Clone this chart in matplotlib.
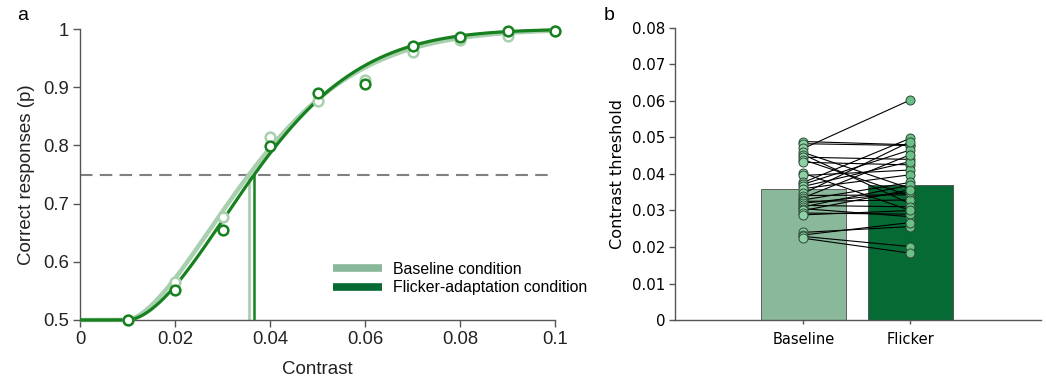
import numpy as np
import matplotlib
matplotlib.use("Agg")
import matplotlib.pyplot as plt
from matplotlib.lines import Line2D

# ---------------- data ----------------
contrast = [0.01, 0.02, 0.03, 0.04, 0.05, 0.06, 0.07, 0.08, 0.09, 0.10]
baseline_p = [0.500, 0.565, 0.677, 0.814, 0.876, 0.912, 0.961, 0.981, 0.988, 0.997]
flicker_p = [0.500, 0.552, 0.655, 0.799, 0.890, 0.905, 0.971, 0.986, 0.996, 0.997]

# fitted psychometric (Weibull) parameters
baseline_threshold = 0.0356
flicker_threshold = 0.0367
baseline_slope = 1.6
flicker_slope = 1.75
fit_onset = 0.01
criterion = 0.75

conditions = ["Baseline", "Flicker"]
bar_means = [0.0359, 0.0370]
subj_baseline = [0.0489, 0.0483, 0.0470, 0.0459, 0.0453, 0.0446, 0.0439, 0.0432,
                 0.0402, 0.0396, 0.0377, 0.0372, 0.0366, 0.0360, 0.0347, 0.0341,
                 0.0335, 0.0329, 0.0325, 0.0320, 0.0314, 0.0310, 0.0305, 0.0300,
                 0.0293, 0.0288, 0.0240, 0.0233, 0.0229, 0.0224]
subj_flicker = [0.0480, 0.0478, 0.0603, 0.0360, 0.0318, 0.0440, 0.0340, 0.0425,
                0.0300, 0.0411, 0.0498, 0.0466, 0.0434, 0.0398, 0.0489, 0.0343,
                0.0453, 0.0377, 0.0329, 0.0350, 0.0310, 0.0370, 0.0283, 0.0357,
                0.0290, 0.0300, 0.0256, 0.0267, 0.0201, 0.0183]


def weibull(x, thr, slope, onset):
    x = np.asarray(x, dtype=float)
    d = np.clip(x - onset, 0, None)
    scale = (thr - onset) / np.log(2) ** (1.0 / slope)
    return 0.5 + 0.5 * (1 - np.exp(-(d / scale) ** slope))


# ---------------- figure ----------------
W, H = 1046, 383
fig = plt.figure(figsize=(W / 100, H / 100), dpi=100)

light_curve = "#a8d0ae"
dark_curve = "#17801f"
bar_light = "#8ab89a"
bar_dark = "#066a35"

# ---- panel a ----
axa = fig.add_axes([80 / W, 1 - 320 / H, (555 - 80) / W, (320 - 29) / H])
arial = "Liberation Sans"
xs = np.linspace(0, 0.1, 600)
axa.axhline(criterion, color="#808080", lw=1.5, ls=(0, (6, 3.5)), zorder=1)
axa.plot(xs, weibull(xs, baseline_threshold, baseline_slope, fit_onset),
         color=light_curve, lw=3.2, zorder=2, clip_on=False, solid_capstyle="butt")
axa.plot(xs, weibull(xs, flicker_threshold, flicker_slope, fit_onset),
         color=dark_curve, lw=2.3, zorder=3, clip_on=False, solid_capstyle="butt")
axa.plot([baseline_threshold] * 2, [0.5, criterion], color=light_curve, lw=2, zorder=2)
axa.plot([flicker_threshold] * 2, [0.5, criterion], color=dark_curve, lw=1.8, zorder=3)
axa.plot(contrast, baseline_p, "o", ms=7, mfc="white", mec=light_curve, mew=1.8,
         zorder=4, clip_on=False)
axa.plot(contrast, flicker_p, "o", ms=7, mfc="white", mec=dark_curve, mew=1.8,
         zorder=5, clip_on=False)
axa.set_xlim(0, 0.1)
axa.set_ylim(0.5, 1.0)
axa.set_xticks([0, 0.02, 0.04, 0.06, 0.08, 0.1])
axa.set_xticklabels(["0", "0.02", "0.04", "0.06", "0.08", "0.1"])
axa.set_yticks([0.5, 0.6, 0.7, 0.8, 0.9, 1.0])
axa.set_yticklabels(["0.5", "0.6", "0.7", "0.8", "0.9", "1"])
for s in ["top", "right"]:
    axa.spines[s].set_visible(False)
for s in ["left", "bottom"]:
    axa.spines[s].set_color("#555555")
    axa.spines[s].set_linewidth(1.0)
axa.tick_params(direction="out", length=5, width=1, color="#555555",
                labelsize=13.3, labelcolor="#222222", pad=3)
for lab in axa.get_xticklabels() + axa.get_yticklabels():
    lab.set_fontfamily(arial)
axa.set_xlabel("Contrast", fontsize=13.5, family=arial, color="#222222", labelpad=9)
axa.set_ylabel("Correct responses (p)", fontsize=13.5, family=arial, color="#222222", labelpad=6)
handles = [Line2D([], [], color=bar_light, lw=5.5, solid_capstyle="butt"),
           Line2D([], [], color=bar_dark, lw=5.5, solid_capstyle="butt")]
axa.legend(handles, ["Baseline condition", "Flicker-adaptation condition"],
           loc="center left", bbox_to_anchor=((333 - 80) / 475, (320 - 278.5) / 291),
           frameon=False, borderpad=0, borderaxespad=0, handlelength=3.1,
           handletextpad=0.7, labelspacing=0.2,
           prop={"family": arial, "size": 11.4})
fig.text(17 / W, 1 - 16 / H, "a", fontsize=14, family=arial, va="center", ha="left")

# ---- panel b ----
axb = fig.add_axes([675 / W, 1 - 320 / H, (1041 - 675) / W, (320 - 28) / H])
pos = np.arange(len(conditions))
axb.bar(pos, bar_means, width=0.8, color=[bar_light, bar_dark],
        edgecolor="#4a4a4a", linewidth=0.6, zorder=1)
for b, f in zip(subj_baseline, subj_flicker):
    axb.plot(pos, [b, f], color="black", lw=0.8, zorder=2)
axb.scatter(np.full(len(subj_baseline), pos[0]), subj_baseline, s=42,
            color="#8fd1a4", edgecolor="#2a4a35", linewidth=0.7, zorder=3)
axb.scatter(np.full(len(subj_flicker), pos[1]), subj_flicker, s=42,
            color="#6cbf86", edgecolor="#2a4a35", linewidth=0.7, zorder=3)
axb.set_xlim(-1.2, 2.22)
axb.set_ylim(0, 0.08)
axb.set_yticks(np.arange(0, 0.081, 0.01))
axb.set_yticklabels(["0", "0.01", "0.02", "0.03", "0.04", "0.05", "0.06", "0.07", "0.08"])
axb.set_xticks(pos)
axb.set_xticklabels(conditions)
for s in ["top", "right"]:
    axb.spines[s].set_visible(False)
for s in ["left", "bottom"]:
    axb.spines[s].set_color("#555555")
    axb.spines[s].set_linewidth(1.0)
axb.tick_params(axis="y", direction="out", length=4, width=1, color="#555555",
                labelsize=10.8, pad=3)
axb.tick_params(axis="x", direction="out", length=3, width=1, color="#555555",
                labelsize=10.5, pad=6)
axb.set_ylabel("Contrast threshold", fontsize=11.6, labelpad=5)
fig.text(604 / W, 1 - 16 / H, "b", fontsize=14, family=arial, va="center", ha="left")

fig.savefig("out.png", dpi=100)
